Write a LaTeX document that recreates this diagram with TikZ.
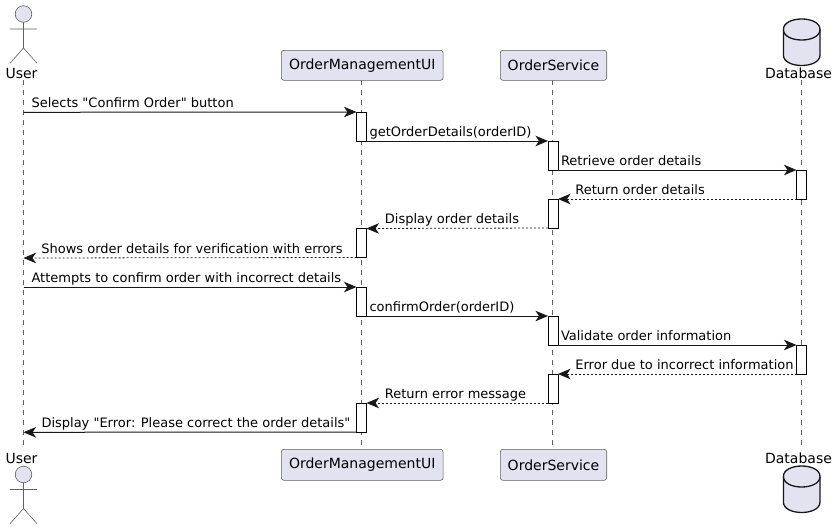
\documentclass[tikz,border=0pt]{standalone}
\usepackage{fontspec}
\setmainfont{DejaVu Sans}[Ligatures=TeXOff]
\usetikzlibrary{arrows.meta}
\definecolor{partfill}{HTML}{E2E2F0}
\definecolor{partline}{HTML}{181818}
\definecolor{thinline}{HTML}{606060}
\tikzset{
  partbox/.style={draw=thinline,line width=0.6pt,fill=partfill,rounded corners=2.5pt,inner sep=0pt,font=\fontsize{14}{16}\selectfont},
  partname/.style={font=\fontsize{14}{16}\selectfont,inner sep=0pt,anchor=base},
  lifeline/.style={draw=thinline,line width=0.6pt,dash pattern=on 5pt off 5pt},
  actbar/.style={draw=black,line width=1pt,fill=white,minimum width=10pt,inner sep=0pt,outer sep=0pt},
  msgtip/.style={-{Stealth[length=12.5pt,width=10.5pt,inset=3.5pt]}},
  msg/.style={msgtip,draw=partline,line width=1pt},
  ret/.style={msgtip,draw=partline,line width=0.8pt,dash pattern=on 2pt off 2pt},
  msgtxt/.style={font=\fontsize{13}{15}\selectfont,inner sep=0pt,anchor=base west},
  pics/stick/.style={code={
    \draw[draw=thinline,line width=0.6pt,fill=partfill] (0,0) circle (8.3);
    \draw[draw=thinline,line width=0.6pt] (0,8.3)--(0,34) (-13.3,15)--(13.3,15) (-13.3,49)--(0,34)--(13.3,49);
  }},
  pics/dbcyl/.style={code={
    \draw[draw=partline,line width=1.3pt,fill=partfill] (-18.3,10.5) .. controls (-18.3,-3.5) and (18.3,-3.5) .. (18.3,10.5)
      -- (18.3,36) .. controls (18.3,50) and (-18.3,50) .. (-18.3,36) -- cycle;
    \draw[draw=partline,line width=1.3pt] (-18.3,10.5) .. controls (-18.3,24.5) and (18.3,24.5) .. (18.3,10.5);
  }}
}
\begin{document}
\begin{tikzpicture}[x=1pt,y=-1pt]
\useasboundingbox (0,0) rectangle (838,530);

%lifelines
\coordinate (usertop) at (23.5,80);
\coordinate (userbot) at (23.5,450);
\coordinate (uitop) at (361.3,80);
\coordinate (uibot) at (361.3,450);
\coordinate (ostop) at (552.3,80);
\coordinate (osbot) at (552.3,450);
\coordinate (dbtop) at (801.7,80);
\coordinate (dbbot) at (801.7,450);
\draw[lifeline] (usertop)--(userbot);
\draw[lifeline] (uitop)--(uibot);
\draw[lifeline] (ostop)--(osbot);
\draw[lifeline] (dbtop)--(dbbot);

%participants top
\pic at (23.5,14) {stick};
\node[partname] (usert) at (21.5,78) {User};
\node[partbox,minimum width=161.7pt,minimum height=30pt] (uit) at (362.2,65.3) {OrderManagementUI};
\node[partbox,minimum width=106.4pt,minimum height=30pt] (ost) at (553.5,65.3) {OrderService};
\pic at (801.7,19) {dbcyl};
\node[partname] (dbt) at (798.5,78) {Database};

%participants bottom
\node[partname] (userb) at (21.5,463) {User};
\pic at (23.5,474.5) {stick};
\node[partbox,minimum width=161.7pt,minimum height=31pt] (uib) at (362.2,464.8) {OrderManagementUI};
\node[partbox,minimum width=106.4pt,minimum height=31pt] (osb) at (553.5,464.8) {OrderService};
\node[partname] (dbb) at (798.5,463) {Database};
\pic at (801.7,466) {dbcyl};

%activation bars
\node[actbar,minimum height=29pt] (ui1) at (361.5,126.5) {};
\node[actbar,minimum height=29pt] (os1) at (553,155.5) {};
\node[actbar,minimum height=29pt] (db1) at (801.5,184.5) {};
\node[actbar,minimum height=29pt] (os2) at (553,213.5) {};
\node[actbar,minimum height=29pt] (ui2) at (361.5,243) {};
\node[actbar,minimum height=29pt] (ui3) at (361.5,301.5) {};
\node[actbar,minimum height=29pt] (os3) at (553,330.5) {};
\node[actbar,minimum height=29pt] (db2) at (801.5,359.5) {};
\node[actbar,minimum height=29pt] (os4) at (553,388.5) {};
\node[actbar,minimum height=29pt] (ui4) at (361.5,417.5) {};

%free ends on the user line
\coordinate (u1) at (23.5,112.3);
\coordinate (u2) at (23.5,258);
\coordinate (u3) at (23.5,287);
\coordinate (u4) at (23.5,432.3);

%first round
\draw[msg] (u1)--(ui1.north west) node[msgtxt,pos=0,xshift=7.5pt,yshift=5pt] (m1) {Selects "Confirm Order" button};
\draw[msg] (ui1.south east)--(os1.north west) node[msgtxt,pos=0,xshift=2.5pt,yshift=5pt] (m2) {getOrderDetails(orderID)};
\draw[msg] (os1.south east)--(db1.north west) node[msgtxt,pos=0,xshift=2.5pt,yshift=5pt] (m3) {Retrieve order details};
\draw[ret] (db1.south west)--(os2.north east) node[msgtxt,pos=1,xshift=17pt,yshift=5pt] (m4) {Return order details};
\draw[ret] (os2.south west)--(ui2.north east) node[msgtxt,pos=1,xshift=18pt,yshift=5pt] (m5) {Display order details};
\draw[ret] (ui2.south west)--(u2) node[msgtxt,pos=1,xshift=17.5pt,yshift=5pt] (m6) {Shows order details for verification with errors};

%second round
\draw[msg] (u3)--(ui3.north west) node[msgtxt,pos=0,xshift=7.5pt,yshift=5pt] (m7) {Attempts to confirm order with incorrect details};
\draw[msg] (ui3.south east)--(os3.north west) node[msgtxt,pos=0,xshift=2.5pt,yshift=5pt] (m8) {confirmOrder(orderID)};
\draw[msg] (os3.south east)--(db2.north west) node[msgtxt,pos=0,xshift=2.5pt,yshift=5pt] (m9) {Validate order information};
\draw[ret] (db2.south west)--(os4.north east) node[msgtxt,pos=1,xshift=17pt,yshift=5pt] (m10) {Error due to incorrect information};
\draw[ret] (os4.south west)--(ui4.north east) node[msgtxt,pos=1,xshift=18pt,yshift=5pt] (m11) {Return error message};
\draw[msg] (ui4.south west)--(u4) node[msgtxt,pos=1,xshift=17.5pt,yshift=5pt] (m12) {Display "Error: Please correct the order details"};

\end{tikzpicture}
\end{document}
